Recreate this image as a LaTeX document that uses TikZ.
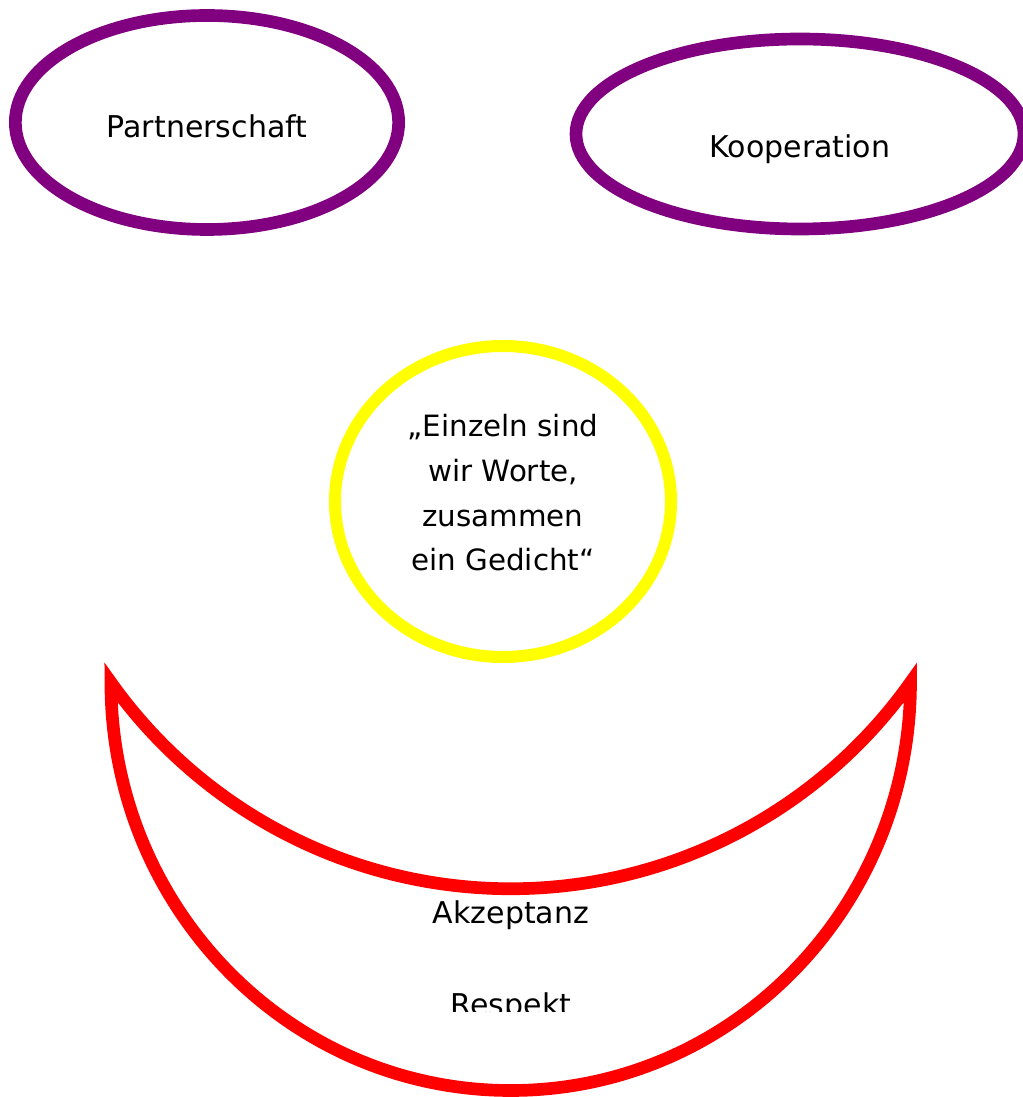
\documentclass[tikz,border=0pt]{standalone}
\usepackage{fontspec}
\setmainfont{DejaVu Sans}
\usetikzlibrary{shapes.geometric}
\definecolor{face-purple}{HTML}{800080}
\definecolor{face-yellow}{HTML}{FFFF00}
\definecolor{face-red}{HTML}{FF0000}

\begin{document}
\begin{tikzpicture}[
    x=0.75pt, y=0.75pt,
    font={\fontsize{22.5pt}{34pt}\selectfont}
  ]

  % Styles for the face parts
  \tikzset{
    eye/.style={draw=face-purple, line width=9.5pt, ellipse, text=black, inner sep=0pt, text depth=0pt},
    nose/.style={draw=face-yellow, line width=9pt, ellipse, align=center, inner sep=0pt, minimum width=252pt, minimum height=233.25pt},
    mouth/.style={draw=face-red, line width=9.5pt, line join=miter}
  }

  \useasboundingbox (0,0) rectangle (1022,1097);

  % Eyes
  \node (partner) [eye, minimum width=287.5pt, minimum height=160.5pt, text height=21.8pt] at (207,974.5) {Partnerschaft};
  \node (koop)    [eye, minimum width=336pt, minimum height=142.5pt, text height=36pt] at (800,963) {Kooperation};

  % Nose with the quote
  \node (quote) [nose, font={\fontsize{22pt}{33.5pt}\selectfont}, text depth=13pt] at (503,595.5)
    {„Einzeln sind\\wir Worte,\\zusammen\\ein Gedicht“};

  % Mouth (crescent), starting at the bottom so that both corners are real joins
  \coordinate (mouth-bottom) at (511,6.5);
  \draw[mouth] (mouth-bottom) arc[start angle=270, end angle=360, x radius=399.5, y radius=408]
    arc[start angle=-35.42, end angle=-144.58, radius=490.6]
    arc[start angle=180, end angle=270, x radius=399.5, y radius=408] -- cycle;

  % Words in the mouth, cut off at the bottom
  \begin{scope}
    \clip (0,85) rectangle (1022,1097);
    \node (values) [anchor=north, inner sep=0pt, align=center] at (511,197) {Akzeptanz\\[35pt]Respekt};
  \end{scope}

\end{tikzpicture}
\end{document}
